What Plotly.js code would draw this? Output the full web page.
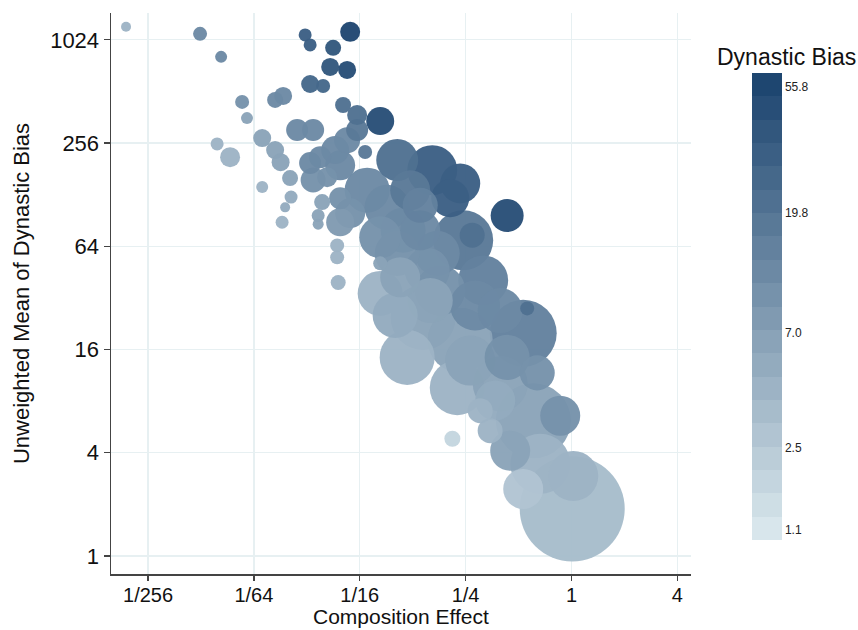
<!DOCTYPE html>
<html>
<head>
<meta charset="utf-8">
<script src="https://cdn.plot.ly/plotly-3.0.1.min.js"></script>
<style>html,body{margin:0;padding:0;background:#fff;}#chart{width:858px;height:630px;}</style>
</head>
<body>
<div id="chart"></div>
<script>
// Composition effect (x), unweighted mean of dynastic bias (y), weight (bubble area), dynastic bias (colour)
var comp = [0.002928,0.00772,0.01017,0.03057,0.03263,0.05513,0.04410,0.04242,0.05297,0.03263,
            0.03869,0.01339,0.01427,0.02063,0.02291,0.05025,0.06041,0.06041,0.08169,0.02753,
            0.03394,0.00965,0.01144,0.01742,0.02063,0.02217,0.01742,0.02509,0.02542,0.02352,
            0.02260,0.03263,0.03394,0.03819,0.03625,0.03625,0.04650,0.04650,0.04713,0.04834,
            0.03719,0.04529,0.06706,0.05297,0.04834,0.04079,0.1021,0.1615,0.2330,0.2044,
            0.4308,0.2422,0.2725,0.06888,0.08944,0.1103,0.08169,0.1380,0.1724,0.1512,
            0.3147,0.1061,0.05513,0.04834,0.08169,0.08169,0.1434,0.2330,0.1163,0.5316,
            0.5600,0.1793,0.1021,0.2242,0.3935,0.6387,0.4308,0.6072,0.8634,0.2102,
            1.010,1.024,0.6649,0.5316,0.3448,0.3028,0.1210,0.1380,0.2832,0.3935,
            0.1574,0.0994,0.2656,0.4483,0.3686];
var dyn  = [1220,1110,815,1095,957,1141,920,712,684,566,
            551,445,358,457,482,427,373,305,344,305,
            305,253,212,274,233,198,142,160,124,108,
            88.4,196,156,116,96.7,86.1,64.8,55.2,39.4,122,
            212,233,227,266,190,162,204,178,149,122,
            96.7,69.4,74.3,136,108,79.4,72.3,79.4,58.2,46.3,
            40.5,42.2,99.8,88.4,50.9,34.0,24.6,18.1,14.4,19.9,
            27.8,35.4,58.2,9.59,10.1,11.7,14.4,6.15,6.58,4.83,
            1.883,2.93,3.45,2.46,5.38,7.04,136,111,28.9,27.0,
            30.9,25.3,13.8,4.11,8.06];
var weight = [1.0,1.96,1.44,1.69,1.69,4.0,2.56,3.24,3.24,3.24,
              1.96,1.96,1.44,2.56,3.24,2.56,4.0,4.84,7.84,4.84,
              4.84,1.69,4.0,3.24,3.24,3.24,1.44,2.56,1.69,1.0,
              1.69,4.84,6.25,2.56,1.69,1.21,1.96,1.96,2.25,4.84,
              4.84,7.84,1.96,6.76,9.0,4.0,17.6,25.0,16.0,14.4,
              10.9,36.0,6.25,20.3,20.3,20.3,17.6,16.0,20.3,20.3,
              25.0,16.0,9.0,7.84,1.96,20.3,42.3,42.3,30.3,44.9,
              1.96,25.0,20.3,30.3,30.3,12.3,20.3,56.3,16.0,2.56,
              110.3,25.0,36.0,16.0,6.25,6.25,16.0,12.3,25.0,20.3,
              20.3,20.3,25.0,16.0,16.0];
var bias = [3.85,10.8,10.8,31.4,29.1,54.0,38.0,38.0,42.7,26.9,
            26.9,8.82,7.20,10.8,10.8,21.4,21.4,18.3,42.7,10.8,
            10.8,3.85,3.85,7.20,7.20,7.20,4.18,6.36,5.38,5.38,
            3.85,10.8,8.82,7.20,6.36,6.36,4.74,4.74,3.85,8.82,
            10.8,12.2,16.2,13.2,13.2,8.82,21.4,33.9,33.9,29.1,
            47.9,18.3,21.4,10.8,10.8,11.7,8.82,13.2,13.2,8.82,
            14.3,6.36,8.82,8.13,5.85,3.85,5.85,7.20,4.74,15.5,
            19.8,8.82,8.82,3.85,5.85,8.82,8.82,6.36,8.82,1.83,
            3.39,4.74,4.36,2.75,4.74,4.74,16.2,14.3,10.8,13.2,
            7.20,5.38,6.36,5.85,5.38];

var xTickVals = [1/256, 1/64, 1/16, 1/4, 1, 4];
var xTickText = ['1/256', '1/64', '1/16', '1/4', '1', '4'];
var yTickVals = [1, 4, 16, 64, 256, 1024];
var yTickText = ['1', '4', '16', '64', '256', '1024'];
var cbLabels = [1.1, 2.5, 7.0, 19.8, 55.8];
var cbText = ['1.1', '2.5', '7.0', '19.8', '55.8'];

// colour bar geometry (position of each label along the bar, 0 = bottom, 1 = top)
var cbPos = [0.021, 0.197, 0.443, 0.700, 0.970];
function toPos(v) {
  var lv = Math.log(v);
  var L = cbLabels.map(Math.log);
  var i = 0;
  if (lv <= L[0]) i = 0; else if (lv >= L[L.length-1]) i = L.length - 2;
  else { while (i < L.length - 2 && lv > L[i+1]) i++; }
  var t = (lv - L[i]) / (L[i+1] - L[i]);
  var p = cbPos[i] + t * (cbPos[i+1] - cbPos[i]);
  return Math.max(0, Math.min(1, p));
}

// stepped blue colour scale
var nBands = 20;
var light = [216, 230, 236], dark = [30, 70, 112];
var cscale = [];
for (var b = 0; b < nBands; b++) {
  var f = b / (nBands - 1);
  var c = 'rgb(' + light.map(function (l, k) { return Math.round(l + (dark[k] - l) * f); }).join(',') + ')';
  cscale.push([b / nBands, c]);
  cscale.push([(b + 1) / nBands, c]);
}

// draw big bubbles first
var idx = comp.map(function (_, i) { return i; });
idx.sort(function (a, b) { return weight[b] - weight[a]; });

var trace = {
  type: 'scatter',
  mode: 'markers',
  x: idx.map(function (i) { return comp[i]; }),
  y: idx.map(function (i) { return dyn[i]; }),
  text: idx.map(function (i) { return bias[i].toFixed(1); }),
  hoverinfo: 'x+y+text',
  marker: {
    size: idx.map(function (i) { return weight[i]; }),
    sizemode: 'area',
    sizeref: 0.02,
    color: idx.map(function (i) { return toPos(bias[i]); }),
    cmin: 0, cmax: 1,
    colorscale: cscale,
    opacity: 0.96,
    line: { width: 0 },
    showscale: true,
    colorbar: {
      thickness: 30, thicknessmode: 'pixels',
      len: 467, lenmode: 'pixels',
      x: (752 - 111) / 580, xanchor: 'left', xref: 'paper',
      y: (574 - 540) / 561, yanchor: 'bottom', yref: 'paper',
      xpad: 0, ypad: 0,
      outlinewidth: 0,
      ticks: '',
      ticklabelstandoff: 4,
      tickvals: cbPos, ticktext: cbText,
      tickfont: { size: 12, color: '#222' }
    }
  }
};

var axisCommon = {
  type: 'log',
  ticks: 'outside', ticklen: 6, tickwidth: 1.2, tickcolor: '#444',
  showline: true, linecolor: '#444', linewidth: 1.5,
  showgrid: true, gridcolor: '#e7f0f2', gridwidth: 1.2,
  zeroline: false,
  automargin: false
};

var layout = {
  width: 858, height: 630,
  margin: { l: 111, r: 167, t: 13, b: 56, autoexpand: false },
  paper_bgcolor: '#ffffff', plot_bgcolor: '#ffffff',
  font: { family: 'Liberation Sans, Arial, Helvetica, sans-serif', color: '#111' },
  showlegend: false,
  xaxis: Object.assign({}, axisCommon, {
    range: [-2.619, 0.680],
    ticklen: 5,
    ticklabelstandoff: -3,
    tickfont: { size: 20, color: '#111' },
    tickvals: xTickVals, ticktext: xTickText
  }),
  yaxis: Object.assign({}, axisCommon, {
    range: [-0.105, 3.167],
    tickfont: { size: 22, color: '#111' },
    tickvals: yTickVals, ticktext: yTickText,
    title: { text: 'Unweighted Mean of Dynastic Bias', font: { size: 22, color: '#111' }, standoff: 14 }
  }),
  annotations: [{
    text: 'Dynastic Bias',
    xref: 'paper', yref: 'paper',
    x: (786 - 111) / 580, y: (574 - 57) / 561,
    xanchor: 'center', yanchor: 'middle',
    showarrow: false,
    font: { size: 23, color: '#111' }
  }, {
    text: 'Composition Effect',
    xref: 'paper', yref: 'paper',
    x: 0.5, y: (574 - 616) / 561,
    xanchor: 'center', yanchor: 'middle',
    showarrow: false, borderpad: 0,
    font: { size: 21, color: '#111' }
  }]
};

Plotly.newPlot('chart', [trace], layout, { displayModeBar: false, staticPlot: true });
</script>
</body>
</html>
